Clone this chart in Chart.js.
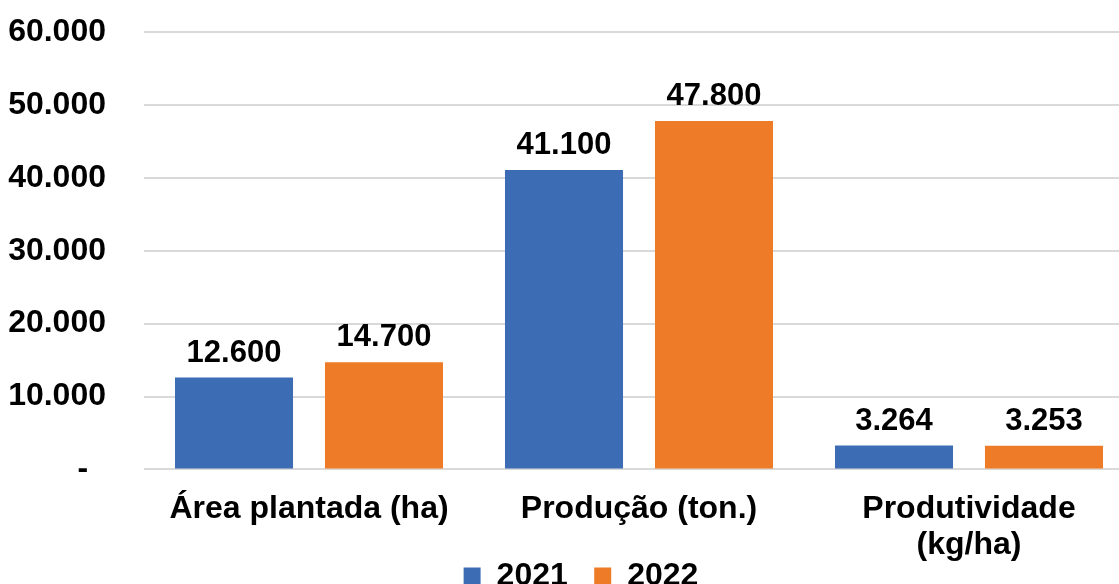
<!DOCTYPE html>
<html>
<head>
<meta charset="utf-8">
<script src="https://cdn.jsdelivr.net/npm/chart.js@4"></script>
<style>
  html, body { margin: 0; padding: 0; background: #fff; overflow: hidden; }
  #wrap { width: 1119px; height: 584px; overflow: hidden; position: relative; }
  #box { width: 1136px; height: 648px; position: absolute; left: 0; top: -25px; }
</style>
</head>
<body>
<div id="wrap"><div id="box"><canvas id="barChart"></canvas></div></div>
<script>
const categorias = ['Área plantada (ha)', 'Produção (ton.)', ['Produtividade', '(kg/ha)']];
const anos = ['2021', '2022'];
const valores2021 = [12600, 41100, 3264];
const valores2022 = [14700, 47800, 3253];
const cores = ['#3C6DB4', '#ED7B27'];

const fonte = "'Liberation Sans', Arial, sans-serif";

// formato brasileiro: 12.600
function fmt(v) {
    if (v === 0) return '-  ';
    return String(Math.round(v)).replace(/\B(?=(\d{3})+(?!\d))/g, '.');
}

// rótulos de valor em cima das barras
const rotulos = {
    id: 'rotulos',
    afterDatasetsDraw(chart) {
        const ctx = chart.ctx;
        ctx.save();
        ctx.font = 'bold 31px ' + fonte;
        ctx.fillStyle = '#000';
        ctx.textAlign = 'center';
        ctx.textBaseline = 'alphabetic';
        chart.data.datasets.forEach((ds, i) => {
            chart.getDatasetMeta(i).data.forEach((bar, j) => {
                ctx.fillText(fmt(ds.data[j]), bar.x, bar.y - 16);
            });
        });
        ctx.restore();
    }
};

// aproxima a legenda dos rótulos do eixo x
const ajusteLegenda = {
    id: 'ajusteLegenda',
    afterLayout(chart) {
        if (!chart.legend) return;
        chart.legend.top -= 21;
        chart.legend.left += 28;
    }
};

const ctx = document.getElementById('barChart').getContext('2d');
new Chart(ctx, {
    type: 'bar',
    data: {
        labels: categorias,
        datasets: [
            { label: anos[0], data: valores2021, backgroundColor: cores[0] },
            { label: anos[1], data: valores2022, backgroundColor: cores[1] }
        ]
    },
    options: {
        responsive: true,
        maintainAspectRatio: false,
        animation: false,
        datasets: {
            bar: { categoryPercentage: 0.909, barPercentage: 0.787 }
        },
        layout: { autoPadding: false, padding: { top: 32, right: 2, left: 0, bottom: 0 } },
        plugins: {
            legend: {
                position: 'bottom',
                labels: {
                    color: '#000',
                    boxWidth: 17,
                    boxHeight: 17,
                    padding: 4,
                    font: { family: fonte, size: 32, weight: 'bold' },
                    // espaço entre os itens da legenda
                    generateLabels(chart) {
                        const itens = Chart.defaults.plugins.legend.labels.generateLabels(chart);
                        itens.forEach((it, i) => {
                            if (i < itens.length - 1) it.text = it.text + '\u2002\u2009';
                        });
                        return itens;
                    }
                }
            },
            tooltip: { enabled: false }
        },
        scales: {
            x: {
                grid: { display: false },
                border: { display: false },
                ticks: {
                    color: '#000',
                    padding: 13,
                    maxRotation: 0,
                    autoSkip: false,
                    font: { family: fonte, size: 32, weight: 'bold', lineHeight: 1.15 }
                }
            },
            y: {
                min: 0,
                max: 60000,
                afterFit(scale) { scale.width = 144; },
                grid: { color: '#D9D9D9', lineWidth: 2, drawTicks: false },
                border: { display: false },
                ticks: {
                    stepSize: 10000,
                    color: '#000',
                    padding: 38,
                    font: { family: fonte, size: 32, weight: 'bold' },
                    callback: v => fmt(v)
                }
            }
        }
    },
    plugins: [rotulos, ajusteLegenda]
});
</script>
</body>
</html>
